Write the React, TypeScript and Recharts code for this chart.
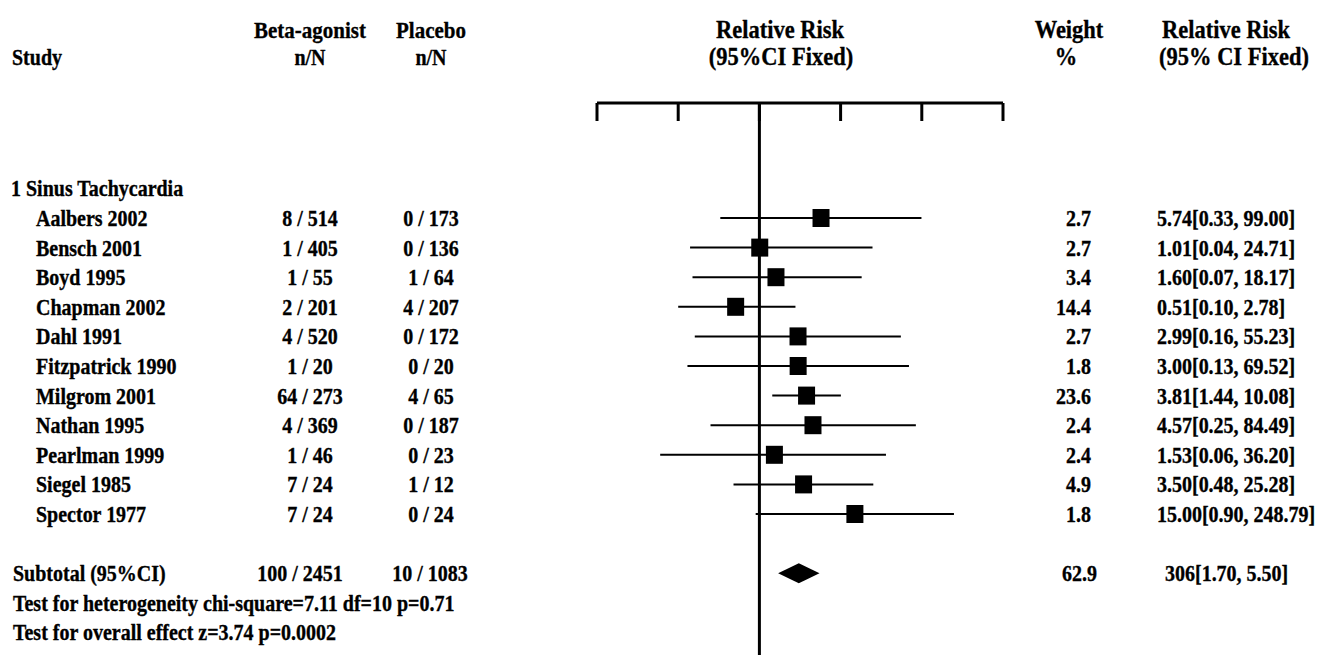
import {
  ComposedChart,
  Scatter,
  XAxis,
  YAxis,
  ErrorBar,
  ReferenceLine,
  ReferenceArea,
} from 'recharts'

const WIDTH = 1338
const HEIGHT = 655
const FONT = "'Liberation Serif', 'Times New Roman', serif"

// studies in subgroup 1
const studies = [
  'Aalbers 2002',
  'Bensch 2001',
  'Boyd 1995',
  'Chapman 2002',
  'Dahl 1991',
  'Fitzpatrick 1990',
  'Milgrom 2001',
  'Nathan 1995',
  'Pearlman 1999',
  'Siegel 1985',
  'Spector 1977',
]
const betaCounts = ['8 / 514', '1 / 405', '1 / 55', '2 / 201', '4 / 520', '1 / 20', '64 / 273', '4 / 369', '1 / 46', '7 / 24', '7 / 24']
const placeboCounts = ['0 / 173', '0 / 136', '1 / 64', '4 / 207', '0 / 172', '0 / 20', '4 / 65', '0 / 187', '0 / 23', '1 / 12', '0 / 24']
const relRisk = [5.74, 1.01, 1.6, 0.51, 2.99, 3.0, 3.81, 4.57, 1.53, 3.5, 15.0]
// lower ends as drawn in the figure
const ciLow = [0.33, 0.14, 0.15, 0.1, 0.16, 0.13, 1.44, 0.25, 0.06, 0.48, 0.9]
const ciHigh = [99.0, 24.71, 18.17, 2.78, 55.23, 69.52, 10.08, 84.49, 36.2, 25.28, 248.79]
const weights = ['2.7', '2.7', '3.4', '14.4', '2.7', '1.8', '23.6', '2.4', '2.4', '4.9', '1.8']
const riskLabels = [
  '5.74[0.33, 99.00]',
  '1.01[0.04, 24.71]',
  '1.60[0.07, 18.17]',
  '0.51[0.10, 2.78]',
  '2.99[0.16, 55.23]',
  '3.00[0.13, 69.52]',
  '3.81[1.44, 10.08]',
  '4.57[0.25, 84.49]',
  '1.53[0.06, 36.20]',
  '3.50[0.48, 25.28]',
  '15.00[0.90, 248.79]',
]
const axisTicks = [0.01, 0.1, 1, 10, 100, 1000]

const groupLabel = '1 Sinus Tachycardia'
const subtotalLabel = 'Subtotal (95%CI)'
const subtotalCounts = ['100 / 2451', '10 / 1083']
const subtotalRisk = [1.7, 5.5]
const subtotalWeight = '62.9'
const subtotalText = '306[1.70, 5.50]'
const testLines = [
  'Test for heterogeneity chi-square=7.11 df=10 p=0.71',
  'Test for overall effect z=3.74 p=0.0002',
]

// row layout
const PLOT_TOP = 103
const PLOT_LEFT = 597
const PLOT_RIGHT = 1003
const ROW_H = 29.6
const FIRST_ROW_Y = 218
const Y_MIN = -(FIRST_ROW_Y - PLOT_TOP) / ROW_H
const Y_MAX = Y_MIN + (HEIGHT - PLOT_TOP) / ROW_H
const GROUP_ROW = -1
const SUBTOTAL_ROW = studies.length + 1
const rowTicks = [GROUP_ROW, ...studies.map((_, i) => i), SUBTOTAL_ROW, SUBTOTAL_ROW + 1, SUBTOTAL_ROW + 2]

const points = studies.map((name, i) => ({
  name,
  x: relRisk[i],
  y: i,
  err: [relRisk[i] - ciLow[i], ciHigh[i] - relRisk[i]],
}))

const STRETCH = 1.12
const txt = { fontFamily: FONT, fontWeight: 700, fontSize: 20, fill: '#000', stroke: '#000', strokeWidth: 0.3 }

// scanned text is a bit taller than it is wide
function Label({ x, y, children, anchor = 'start', size = 20 }: { x: number; y: number; children: string; anchor?: 'start' | 'middle' | 'end'; size?: number }) {
  return (
    <text
      transform={`translate(${x},${y}) scale(1,${STRETCH})`}
      textAnchor={anchor}
      style={{ ...txt, fontSize: size }}
    >
      {children}
    </text>
  )
}

function Cell({ x, y, children, anchor = 'start' }: { x: number; y: number; children: string; anchor?: 'start' | 'middle' | 'end' }) {
  return <Label x={x} y={y + 8} anchor={anchor}>{children}</Label>
}

function RowLabel(props: any) {
  const row = props.payload.value
  const y = props.y
  if (row === GROUP_ROW) return <Cell x={11} y={y}>{groupLabel}</Cell>
  if (row >= 0 && row < studies.length) {
    return (
      <g>
        <Cell x={36} y={y}>{studies[row]}</Cell>
        <Cell x={310} y={y} anchor="middle">{betaCounts[row]}</Cell>
        <Cell x={431} y={y} anchor="middle">{placeboCounts[row]}</Cell>
        <Cell x={1091} y={y} anchor="end">{weights[row]}</Cell>
        <Cell x={1157} y={y}>{riskLabels[row]}</Cell>
      </g>
    )
  }
  if (row === SUBTOTAL_ROW) {
    return (
      <g>
        <Cell x={13} y={y}>{subtotalLabel}</Cell>
        <Cell x={300} y={y} anchor="middle">{subtotalCounts[0]}</Cell>
        <Cell x={430} y={y} anchor="middle">{subtotalCounts[1]}</Cell>
        <Cell x={1097} y={y} anchor="end">{subtotalWeight}</Cell>
        <Cell x={1165} y={y}>{subtotalText}</Cell>
      </g>
    )
  }
  return <Cell x={13} y={y}>{testLines[row - SUBTOTAL_ROW - 1]}</Cell>
}

function NoTick() {
  return <g />
}

function Square(props: any) {
  return <rect x={props.cx - 8.5} y={props.cy - 9} width={17} height={18} fill="#000" />
}

function Diamond(props: any) {
  const { x, y, width, height } = props
  const mid = y + height / 2
  return (
    <polygon
      points={`${x},${mid} ${x + width / 2},${y} ${x + width},${mid} ${x + width / 2},${y + height}`}
      fill="#000"
    />
  )
}

export default function App() {
  return (
    <div style={{ position: 'absolute', left: 0, top: 0, width: WIDTH, height: HEIGHT, background: '#fff' }}>
      <ComposedChart
        width={WIDTH}
        height={HEIGHT}
        data={points}
        margin={{ top: PLOT_TOP - 1, right: WIDTH - PLOT_RIGHT, bottom: 0, left: PLOT_LEFT - 1 }}
      >
        <XAxis
          dataKey="x"
          type="number"
          scale="log"
          domain={[0.01, 1000]}
          ticks={axisTicks}
          orientation="top"
          height={1}
          tick={NoTick}
          tickSize={-18}
          axisLine={{ stroke: '#000', strokeWidth: 3 }}
          tickLine={{ stroke: '#000', strokeWidth: 3 }}
          allowDataOverflow
        />
        <YAxis
          dataKey="y"
          type="number"
          domain={[Y_MIN, Y_MAX]}
          reversed
          ticks={rowTicks}
          interval={0}
          width={1}
          axisLine={false}
          tickLine={false}
          tick={RowLabel}
          allowDataOverflow
        />
        <ReferenceLine x={1} stroke="#000" strokeWidth={3} />
        <Scatter dataKey="y" shape={Square} isAnimationActive={false}>
          <ErrorBar dataKey="err" direction="x" width={0} stroke="#000" strokeWidth={2} />
        </Scatter>
        <ReferenceArea
          x1={subtotalRisk[0]}
          x2={subtotalRisk[1]}
          y1={SUBTOTAL_ROW - 0.34}
          y2={SUBTOTAL_ROW + 0.34}
          shape={Diamond}
        />
        <Label x={12} y={65}>Study</Label>
        <Label x={310} y={38} anchor="middle" size={21}>Beta-agonist</Label>
        <Label x={310} y={65} anchor="middle">n/N</Label>
        <Label x={431} y={38} anchor="middle" size={21}>Placebo</Label>
        <Label x={431} y={65} anchor="middle">n/N</Label>
        <Label x={780} y={38} anchor="middle" size={22.5}>Relative Risk</Label>
        <Label x={781} y={65} anchor="middle" size={22.5}>(95%CI Fixed)</Label>
        <Label x={1069} y={38} anchor="middle" size={22.5}>Weight</Label>
        <Label x={1066} y={65} anchor="middle" size={22.5}>%</Label>
        <Label x={1226} y={38} anchor="middle" size={22.5}>Relative Risk</Label>
        <Label x={1234} y={65} anchor="middle" size={22.5}>(95% CI Fixed)</Label>
      </ComposedChart>
    </div>
  )
}
